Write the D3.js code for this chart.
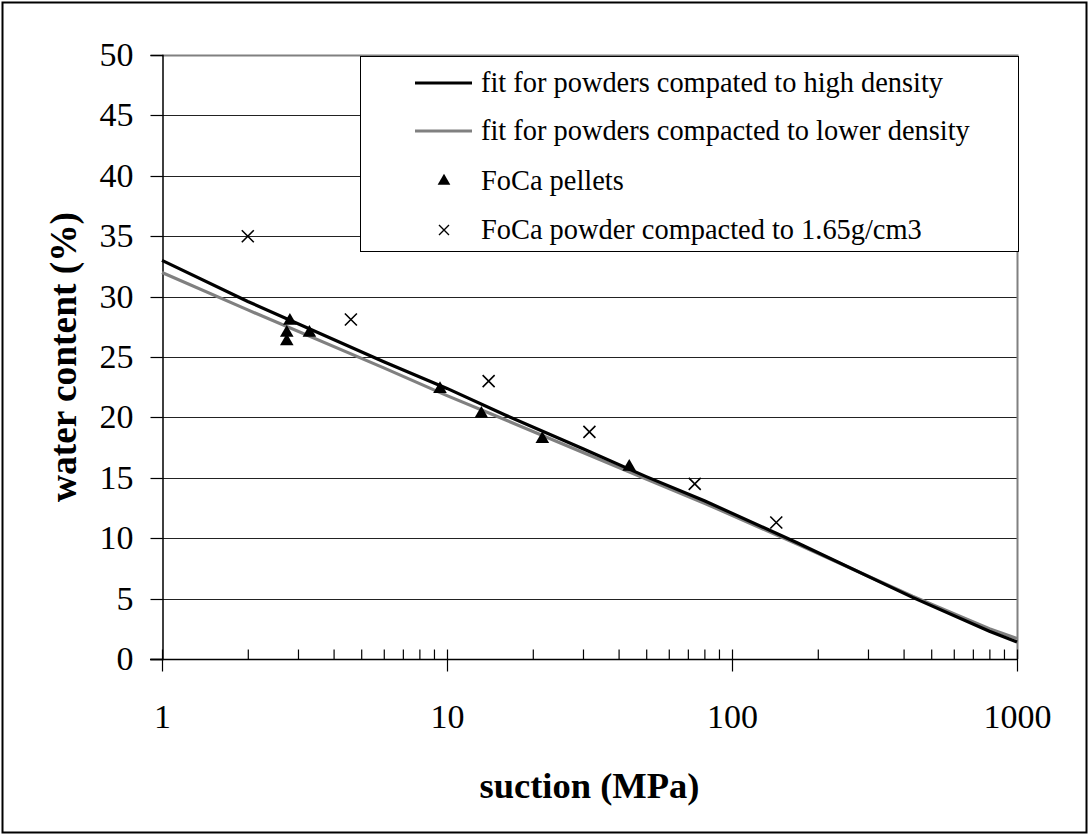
<!DOCTYPE html>
<html><head><meta charset="utf-8">
<script src="https://cdn.jsdelivr.net/npm/d3@7"></script>
<style>
html,body{margin:0;padding:0;background:#fff;}
</style></head>
<body>
<script>
// ---- data ----
const fitSuction = [1, 2, 6, 10, 16, 30, 50, 80, 170, 430, 800, 1000];
const fitHigh    = [33.0, 29.6, 24.6, 22.4, 20.2, 17.4, 15.1, 13.1, 9.6, 5.1, 2.3, 1.4];
const fitLow     = [32.0, 28.9, 24.1, 21.8, 19.8, 17.1, 14.9, 12.9, 9.5, 5.2, 2.5, 1.7];
const pelletSuction = [2.81, 2.74, 2.74, 3.29, 9.45, 13.2, 21.6, 43.6];
const pelletWater   = [28.0, 27.0, 26.3, 27.0, 22.35, 20.3, 18.2, 15.9];
const powderSuction = [2, 4.6, 14, 31.6, 74, 143];
const powderWater   = [35, 28.1, 23, 18.8, 14.5, 11.3];
const yTicks = [0, 5, 10, 15, 20, 25, 30, 35, 40, 45, 50];
const xTicks = [1, 10, 100, 1000];
const legendLabels = [
  "fit for powders compated to high density",
  "fit for powders compacted to lower density",
  "FoCa pellets",
  "FoCa powder compacted to 1.65g/cm3"
];

const FONT = "'Liberation Serif','Times New Roman',Times,serif";
const W = 1089, H = 836;
const L = 162, R = 1017, T = 55, B = 659;

const svg = d3.select("body").append("svg").attr("width", W).attr("height", H)
  .style("font-family", FONT);

// outer border
svg.append("rect").attr("x", 2.5).attr("y", 2.5).attr("width", W - 5).attr("height", H - 6)
  .attr("fill", "#fff").attr("stroke", "#000").attr("stroke-width", 2);

const x = d3.scaleLog().domain([1, 1000]).range([L, R]);
const y = d3.scaleLinear().domain([0, 50]).range([B, T]);

// gridlines
svg.append("g").selectAll("line").data(yTicks.filter(v => v > 0 && v < 50)).join("line")
  .attr("x1", L).attr("x2", R)
  .attr("y1", d => Math.round(y(d)) + 0.5).attr("y2", d => Math.round(y(d)) + 0.5)
  .attr("stroke", "#222").attr("stroke-width", 1);

// plot border top/right (gray)
svg.append("path")
  .attr("d", `M${L},${T + 0.5}H${R + 0.5}V${B}`)
  .attr("fill", "none").attr("stroke", "#808080").attr("stroke-width", 2);

// y axis
const yAxis = d3.axisLeft(y).tickValues(yTicks).tickSize(12).tickPadding(17).tickFormat(d3.format("d"));
const gy = svg.append("g").attr("transform", `translate(${L + 0.5},0)`).call(yAxis);
gy.attr("font-family", null);
gy.select(".domain").attr("stroke", "#000").attr("stroke-width", 1.5);
gy.selectAll(".tick line").attr("stroke", "#000").attr("stroke-width", 1.2);
gy.selectAll(".tick text").style("font-family", FONT).style("font-size", "34px").attr("fill", "#000");
gy.selectAll(".tick").attr("transform", d => `translate(0,${Math.round(y(d)) + 0.5})`);

// x axis: minor ticks inside, major cross
const minor = [];
for (let e = 0; e < 3; e++) for (let k = 2; k <= 9; k++) minor.push(k * Math.pow(10, e));
const xAxisMinor = d3.axisTop(x).tickValues(minor).tickSize(10).tickFormat("");
const gxm = svg.append("g").attr("transform", `translate(0,${B + 0.5})`).call(xAxisMinor);
gxm.select(".domain").remove();
gxm.selectAll(".tick line").attr("stroke", "#000").attr("stroke-width", 1.2);

const xAxis = d3.axisBottom(x).tickValues(xTicks).tickSize(12).tickPadding(32).tickFormat(d3.format("d"));
const gx = svg.append("g").attr("transform", `translate(0,${B + 0.5})`).call(xAxis);
gx.attr("font-family", null);
gx.select(".domain").attr("stroke", "#000").attr("stroke-width", 1.5).attr("d", `M${L - 12},0H${R}`);
gx.selectAll(".tick line").attr("stroke", "#000").attr("stroke-width", 1.2).attr("y1", -10);
gx.selectAll(".tick text").style("font-family", FONT).style("font-size", "34px").attr("fill", "#000");

// fit lines
const line = d3.line().x(d => x(d[0])).y(d => y(d[1]));
svg.append("path").datum(fitSuction.map((s, i) => [s, fitLow[i]]))
  .attr("d", line).attr("fill", "none").attr("stroke", "#808080").attr("stroke-width", 3.2);
svg.append("path").datum(fitSuction.map((s, i) => [s, fitHigh[i]]))
  .attr("d", line).attr("fill", "none").attr("stroke", "#000").attr("stroke-width", 3.2);

// markers
const tri = d3.symbol().type(d3.symbolTriangle).size(80);
svg.append("g").selectAll("path").data(pelletSuction.map((s, i) => [s, pelletWater[i]])).join("path")
  .attr("d", tri).attr("transform", d => `translate(${x(d[0])},${y(d[1])})`).attr("fill", "#000");

const crossPath = (cx, cy, r) => `M${cx - r},${cy - r}L${cx + r},${cy + r}M${cx - r},${cy + r}L${cx + r},${cy - r}`;
svg.append("g").selectAll("path").data(powderSuction.map((s, i) => [s, powderWater[i]])).join("path")
  .attr("d", d => crossPath(x(d[0]), y(d[1]), 6)).attr("stroke", "#000").attr("stroke-width", 1.6).attr("fill", "none");

// legend
const lg = svg.append("g");
lg.append("rect").attr("x", 360.5).attr("y", 56.5).attr("width", 658).attr("height", 195)
  .attr("fill", "#fff").attr("stroke", "#000").attr("stroke-width", 1);
const rowY = [83, 131, 181, 230];
lg.append("line").attr("x1", 415).attr("x2", 472).attr("y1", rowY[0]).attr("y2", rowY[0])
  .attr("stroke", "#000").attr("stroke-width", 3.2);
lg.append("line").attr("x1", 415).attr("x2", 472).attr("y1", rowY[1]).attr("y2", rowY[1])
  .attr("stroke", "#808080").attr("stroke-width", 3.2);
lg.append("path").attr("d", d3.symbol().type(d3.symbolTriangle).size(70)).attr("transform", `translate(444,${rowY[2]})`).attr("fill", "#000");
lg.append("path").attr("d", crossPath(444, rowY[3], 5)).attr("stroke", "#000").attr("stroke-width", 1.4);
lg.selectAll("text").data(legendLabels).join("text")
  .attr("x", 481).attr("y", (d, i) => rowY[i] + 9)
  .style("font-family", FONT).style("font-size", "28.4px").attr("fill", "#000").text(d => d);

// axis titles
svg.append("text").attr("x", (L + R) / 2).attr("y", 798).attr("text-anchor", "middle")
  .style("font-family", FONT).style("font-size", "36.5px").attr("font-weight", "bold").text("suction (MPa)");
svg.append("text").attr("transform", `translate(76,${(T + B) / 2}) rotate(-90)`).attr("text-anchor", "middle")
  .style("font-family", FONT).style("font-size", "37.4px").attr("font-weight", "bold").text("water content (%)");
</script>
</body></html>
